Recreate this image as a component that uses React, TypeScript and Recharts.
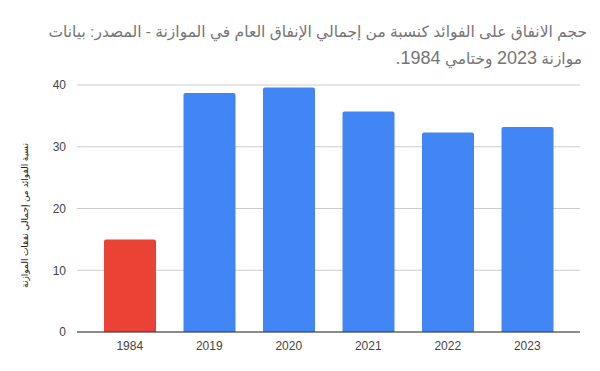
import React from 'react'
import { BarChart, Bar, XAxis, YAxis, CartesianGrid, Cell } from 'recharts'

const years = ['1984', '2019', '2020', '2021', '2022', '2023']
const shares = [15, 38.7, 39.6, 35.7, 32.3, 33.2]
const barColors = ['#EA4335', '#4285F4', '#4285F4', '#4285F4', '#4285F4', '#4285F4']
const yTicks = [0, 10, 20, 30, 40]

const titleLine1 = 'حجم الانفاق على الفوائد كنسبة من إجمالي الإنفاق العام في الموازنة - المصدر: بيانات'
const titleLine2 = ['موازنة ', '2023', ' وختامي ', '1984', '.']
const yLabel = 'نسبة الفوائد من إجمالي نفقات الموازنة'

const data = years.map((year, i) => ({ year, share: shares[i] }))

const font = '"Liberation Sans", Arial, "DejaVu Sans", sans-serif'

export default function App() {
  return (
    <div style={{ position: 'absolute', left: 0, top: 0, width: 600, height: 371, background: '#fff', fontFamily: font }}>
      <div
        dir="rtl"
        style={{
          position: 'absolute',
          right: 13,
          top: 19,
          width: 585,
          textAlign: 'right',
          fontSize: 15.5,
          lineHeight: '26px',
          color: '#757575',
          whiteSpace: 'nowrap',
        }}
      >
        <div>{titleLine1}</div>
        <div style={{ marginRight: 5 }}>
          {titleLine2.map((part, i) => (
            <span key={i} style={/\d|\./.test(part) ? { fontSize: 18 } : undefined}>
              {part}
            </span>
          ))}
        </div>
      </div>
      <BarChart
        width={600}
        height={371}
        data={data}
        margin={{ top: 85, right: 20, bottom: 9, left: 0 }}
        barSize={52}
      >
        <CartesianGrid vertical={false} stroke="#cccccc" />
        <XAxis
          dataKey="year"
          padding={{ left: 13, right: 13 }}
          tickLine={false}
          axisLine={{ stroke: '#333333' }}
          tick={{ fill: '#444444', fontSize: 12, fontFamily: font }}
          tickMargin={3}
        />
        <YAxis
          width={77}
          domain={[0, 40]}
          ticks={yTicks}
          axisLine={false}
          tickLine={false}
          tick={{ fill: '#444444', fontSize: 12, fontFamily: font }}
          tickMargin={5}
          label={{
            content: ({ viewBox }: any) => {
              const cx = 25
              const cy = viewBox.y + viewBox.height / 2 + 7
              return (
                <text
                  x={cx}
                  y={cy}
                  transform={`rotate(-90 ${cx} ${cy})`}
                  textAnchor="middle"
                  dominantBaseline="central"
                  fontSize={9}
                  fill="#222222"
                  fontFamily={font}
                >
                  {yLabel}
                </text>
              )
            },
          }}
        />
        <Bar dataKey="share" isAnimationActive={false} radius={[2, 2, 0, 0]}>
          {data.map((d, i) => (
            <Cell key={d.year} fill={barColors[i]} />
          ))}
        </Bar>
      </BarChart>
    </div>
  )
}
